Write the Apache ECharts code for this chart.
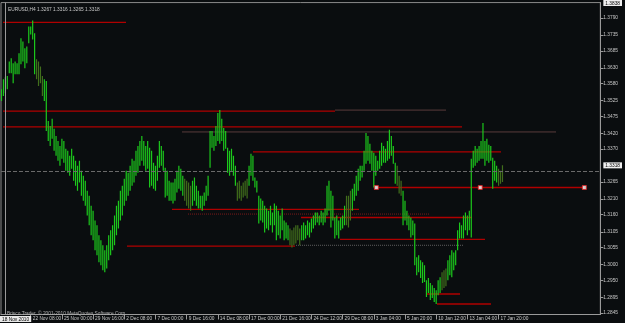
<!DOCTYPE html>
<html><head><meta charset="utf-8">
<script src="https://cdn.jsdelivr.net/npm/echarts@6/dist/echarts.min.js"></script>
<style>html,body{margin:0;padding:0;background:#0a0d0f;}#c{width:625px;height:323px;}</style>
</head><body><div id="c"></div>
<script>
const symbolTitle = 'EURUSD,H4 1.3267 1.3316 1.3265 1.3318';
const copyright = 'Brisco Trader, \u00a9 2001-2010 MetaQuotes Software Corp.';
const timeLabels = ['18 Nov 2010','22 Nov 08:00','25 Nov 00:00','29 Nov 16:00','2 Dec 08:00','7 Dec 00:00','9 Dec 16:00','14 Dec 08:00','17 Dec 00:00','21 Dec 16:00','24 Dec 12:00','29 Dec 08:00','3 Jan 04:00','5 Jan 20:00','10 Jan 12:00','13 Jan 04:00','17 Jan 20:00'];
const timeLabelBars = [0,16,32,48,64,80,96,112,128,144,160,176,192,208,224,240,256];
const priceLabels = [1.3790,1.3735,1.3685,1.3630,1.3580,1.3525,1.3475,1.3420,1.3370,1.3265,1.3210,1.3160,1.3105,1.3055,1.3000,1.2950,1.2895,1.2845];
const lastPrice = 1.3318;
const topPrice = 1.3838;
const highs = [
1.3572,1.3562,1.3594,1.3600,1.3604,1.3651,1.3661,1.3645,1.3651,1.3645,1.3677,1.3725,1.3715,1.3693,1.3699,1.3763,1.3763,1.3782,1.3741,1.3658,
1.3651,1.3635,1.3604,1.3594,1.3588,1.3460,1.3444,1.3467,1.3435,1.3412,1.3396,1.3380,1.3403,1.3396,1.3371,1.3365,1.3349,1.3371,1.3349,1.3333,
1.3317,1.3333,1.3301,1.3285,1.3269,1.3237,1.3221,1.3189,1.3173,1.3141,1.3126,1.3094,1.3078,1.3062,1.3046,1.3062,1.3094,1.3110,1.3126,1.3157,
1.3189,1.3205,1.3237,1.3253,1.3275,1.3301,1.3294,1.3317,1.3339,1.3333,1.3365,1.3380,1.3396,1.3412,1.3396,1.3380,1.3396,1.3374,1.3365,1.3326,
1.3317,1.3349,1.3396,1.3380,1.3365,1.3310,1.3301,1.3269,1.3263,1.3263,1.3275,1.3301,1.3317,1.3307,1.3285,1.3275,1.3269,1.3263,1.3253,1.3269,
1.3279,1.3253,1.3237,1.3221,1.3221,1.3231,1.3253,1.3285,1.3428,1.3428,1.3412,1.3444,1.3486,1.3495,1.3467,1.3438,1.3428,1.3374,1.3365,1.3371,
1.3349,1.3317,1.3263,1.3269,1.3253,1.3263,1.3269,1.3275,1.3317,1.3355,1.3349,1.3279,1.3269,1.3221,1.3212,1.3205,1.3189,1.3180,1.3173,1.3189,
1.3167,1.3196,1.3189,1.3173,1.3157,1.3180,1.3141,1.3135,1.3126,1.3116,1.3110,1.3119,1.3126,1.3126,1.3116,1.3126,1.3135,1.3126,1.3141,1.3135,
1.3148,1.3157,1.3167,1.3167,1.3157,1.3173,1.3167,1.3180,1.3253,1.3269,1.3237,1.3221,1.3151,1.3157,1.3141,1.3151,1.3157,1.3189,1.3221,1.3221,
1.3237,1.3243,1.3259,1.3285,1.3307,1.3317,1.3317,1.3365,1.3422,1.3412,1.3387,1.3365,1.3358,1.3349,1.3333,1.3365,1.3390,1.3380,1.3371,1.3396,
1.3432,1.3412,1.3380,1.3326,1.3317,1.3285,1.3269,1.3237,1.3205,1.3173,1.3157,1.3151,1.3141,1.3132,1.3024,1.3030,1.3014,1.3008,1.2998,1.2950,
1.2957,1.2941,1.2934,1.2925,1.2918,1.2950,1.2960,1.2976,1.2982,1.2988,1.3014,1.3030,1.3046,1.3039,1.3046,1.3110,1.3135,1.3126,1.3157,1.3167,
1.3157,1.3173,1.3339,1.3365,1.3380,1.3371,1.3380,1.3396,1.3454,1.3396,1.3403,1.3384,1.3380,1.3342,1.3333,1.3317,1.3307,1.3301,1.3318
];
const lows = [
1.3508,1.3524,1.3540,1.3549,1.3562,1.3613,1.3613,1.3581,1.3610,1.3610,1.3610,1.3642,1.3651,1.3629,1.3645,1.3709,1.3737,1.3721,1.3610,1.3594,
1.3572,1.3581,1.3540,1.3524,1.3428,1.3396,1.3380,1.3403,1.3365,1.3349,1.3333,1.3317,1.3339,1.3326,1.3301,1.3294,1.3285,1.3307,1.3269,1.3253,
1.3237,1.3263,1.3221,1.3205,1.3189,1.3157,1.3126,1.3094,1.3078,1.3046,1.3030,1.3008,1.2998,1.2982,1.2976,1.2988,1.3014,1.3030,1.3046,1.3062,
1.3094,1.3116,1.3141,1.3157,1.3189,1.3205,1.3221,1.3237,1.3253,1.3263,1.3285,1.3294,1.3317,1.3333,1.3317,1.3301,1.3307,1.3247,1.3253,1.3243,
1.3237,1.3269,1.3310,1.3317,1.3301,1.3215,1.3221,1.3205,1.3205,1.3196,1.3205,1.3231,1.3243,1.3237,1.3221,1.3205,1.3189,1.3180,1.3173,1.3189,
1.3205,1.3189,1.3180,1.3180,1.3173,1.3189,1.3205,1.3221,1.3310,1.3374,1.3365,1.3380,1.3396,1.3387,1.3396,1.3365,1.3371,1.3294,1.3285,1.3301,
1.3285,1.3253,1.3205,1.3212,1.3205,1.3215,1.3221,1.3212,1.3253,1.3285,1.3269,1.3247,1.3231,1.3132,1.3141,1.3135,1.3103,1.3116,1.3110,1.3126,
1.3103,1.3126,1.3078,1.3094,1.3084,1.3110,1.3078,1.3084,1.3078,1.3062,1.3055,1.3062,1.3068,1.3078,1.3062,1.3078,1.3078,1.3084,1.3094,1.3087,
1.3103,1.3116,1.3126,1.3135,1.3126,1.3135,1.3126,1.3135,1.3157,1.3173,1.3119,1.3141,1.3084,1.3094,1.3084,1.3110,1.3116,1.3126,1.3126,1.3119,
1.3141,1.3173,1.3205,1.3221,1.3237,1.3269,1.3279,1.3301,1.3323,1.3333,1.3323,1.3301,1.3247,1.3285,1.3301,1.3307,1.3317,1.3326,1.3326,1.3333,
1.3339,1.3349,1.3323,1.3259,1.3253,1.3228,1.3221,1.3126,1.3141,1.3126,1.3110,1.3087,1.3094,1.2998,1.2966,1.2976,1.2957,1.2941,1.2944,1.2896,
1.2909,1.2887,1.2893,1.2880,1.2874,1.2902,1.2909,1.2918,1.2925,1.2931,1.2950,1.2966,1.2960,1.2982,1.2998,1.3046,1.3084,1.3084,1.3084,1.3110,
1.3094,1.3110,1.3087,1.3310,1.3317,1.3326,1.3333,1.3339,1.3339,1.3317,1.3333,1.3326,1.3333,1.3243,1.3269,1.3263,1.3253,1.3259,1.3265
];
// bars painted olive by the overlay indicator: [firstBar, lastBar]
const oliveRanges = [[19,22],[95,98],[122,127],[149,154],[178,180],[204,206],[227,229],[256,258]];
// horizontal level objects: [price, fromBar, toBar]
const redLevels = [[1.3776,1.8,64.8],[1.3492,1.8,172],[1.3441,1.8,237],[1.3361,129.8,257.4],[1.3247,193.3,300],[1.3177,88.7,184.2],[1.3151,154.7,242.6],[1.3081,174.5,249.2],[1.3059,65.3,151.7],[1.2906,219.3,236],[1.2874,224.3,252.3]];
const dimLevels = [[1.3495,172,229],[1.3425,93.7,285.3]];
const dottedRedLevels = [[1.3162,96.8,220.3]];
const dottedGreyLevels = [[1.3062,152.2,238.1]];
const markerPrice = 1.3247;
const markerBars = [193.3,246.6,300];
const vlineBar = 2.8;
const vlineLabel = '18 Nov 2010';

const GREEN = '#1cc81c', OLIVE = '#416e1c';
const LEVEL_STYLES = [{stroke:'#b00000', dash:null, w:1.3}, {stroke:'#5a3c3c', dash:null, w:1}, {stroke:'#7a1a1a', dash:[1,1], w:1}, {stroke:'#5c5c5c', dash:[1,1], w:1}];
const FS = 4.8, FONT = 'Liberation Sans, Arial, sans-serif';
function isOlive(i){ return oliveRanges.some(r => i >= r[0] && i <= r[1]); }
const barData = highs.map((h, i) => [i, h, lows[i], isOlive(i) ? 1 : 0]);
const levelData = [].concat(
  redLevels.map(l => [l[0], l[1], l[2], 0]),
  dimLevels.map(l => [l[0], l[1], l[2], 1]),
  dottedRedLevels.map(l => [l[0], l[1], l[2], 2]),
  dottedGreyLevels.map(l => [l[0], l[1], l[2], 3]));
const boxed = [topPrice, lastPrice];
const chart = echarts.init(document.getElementById('c'), null, {renderer:'canvas'});
chart.setOption({
  backgroundColor:'#0a0d0f',
  animation:false,
  title:[
    {text:symbolTitle, left:3, top:2, textStyle:{color:'#c8c8c8', fontSize:FS, fontWeight:'normal', fontFamily:FONT}},
    {text:copyright, left:2, top:306, textStyle:{color:'#b0b0b0', fontSize:FS, fontWeight:'normal', fontFamily:FONT}}
  ],
  graphic:[{type:'text', left:0, top:316, z:100, style:{text:vlineLabel, fill:'#000', backgroundColor:'#e8e8e8', padding:[1,2,0,2], fontSize:FS, fontFamily:FONT}}],
  grid:{left:1, right:19, top:1, bottom:8.5, show:true, borderColor:'#8a8a8a', borderWidth:1, backgroundColor:'transparent'},
  xAxis:{type:'value', min:0.76, max:308.2, splitLine:{show:false},
    axisLine:{show:true, lineStyle:{color:'#9a9a9a'}},
    axisTick:{show:true, customValues:timeLabelBars, length:5, lineStyle:{color:'#9a9a9a'}},
    axisLabel:{show:true, customValues:timeLabelBars, align:'left', margin:2, padding:[0,0,0,2], color:'#c8c8c8', fontSize:FS, fontFamily:FONT,
      formatter:v => { const k = timeLabelBars.indexOf(v); return k >= 0 ? timeLabels[k] : ''; }}
  },
  yAxis:{type:'value', position:'right', min:1.28403, max:1.38394, splitLine:{show:false}, scale:true,
    axisLine:{show:true, lineStyle:{color:'#9a9a9a'}},
    axisTick:{show:true, customValues:priceLabels, length:3, lineStyle:{color:'#9a9a9a'}},
    axisLabel:{show:true, customValues:priceLabels.concat(boxed), margin:3, color:'#c8c8c8', fontSize:FS, fontFamily:FONT,
      formatter:v => boxed.some(b => Math.abs(b - v) < 1e-9) ? '{box|' + v.toFixed(4) + '}' : v.toFixed(4),
      rich:{box:{backgroundColor:'#eeeeee', color:'#000', padding:[1,2,0,2], fontSize:FS, fontFamily:FONT}}}
  },
  series:[
    {type:'custom', clip:true, data:levelData, encode:{x:[1,2], y:0}, z:1,
      renderItem:(params, api) => {
        const a = api.coord([api.value(1), api.value(0)]);
        const b = api.coord([api.value(2), api.value(0)]);
        const s = LEVEL_STYLES[api.value(3)];
        return {type:'line', shape:{x1:Math.round(a[0]), y1:a[1], x2:Math.round(b[0]), y2:a[1]},
          style:{stroke:s.stroke, lineWidth:s.w, lineDash:s.dash}};
      },
      markLine:{silent:true, symbol:'none', animation:false, label:{show:false},
        data:[{xAxis:vlineBar, lineStyle:{color:'#9a9a9a', type:'solid', width:1}},
              {yAxis:lastPrice, lineStyle:{color:'#6a6a6a', type:'dashed', width:1}}]}
    },
    {type:'custom', clip:true, data:barData, encode:{x:0, y:[1,2]}, z:2,
      renderItem:(params, api) => {
        const i = api.value(0);
        const a = api.coord([i, api.value(1)]);
        const b = api.coord([i, api.value(2)]);
        return {type:'line', shape:{x1:a[0], y1:a[1], x2:a[0], y2:b[1]},
          style:{stroke: api.value(3) ? OLIVE : GREEN, lineWidth:1.2}};
      }
    },
    {type:'scatter', data:markerBars.map(b => [b, markerPrice]), symbol:'rect', symbolSize:4, clip:false,
      itemStyle:{color:'#ffffff', borderColor:'#e02020', borderWidth:1}, z:5}
  ]
});
</script></body></html>
